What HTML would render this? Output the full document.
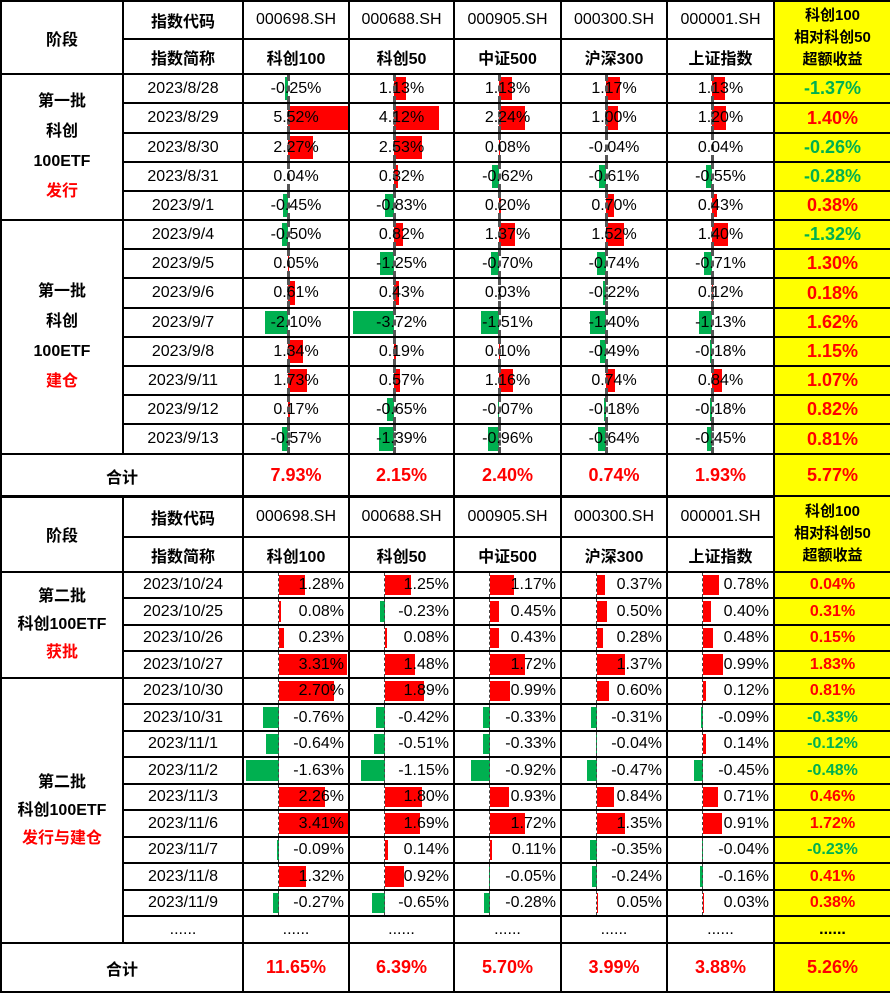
<!DOCTYPE html>
<html><head><meta charset="utf-8">
<style>
html,body{margin:0;padding:0;background:#fff;width:890px;height:993px;overflow:hidden}
body{font-family:"Liberation Sans","Noto Sans CJK SC",sans-serif;font-size:16px;color:#000}
table{border-collapse:collapse;table-layout:fixed;width:890px;position:absolute;left:0}
td{border:2px solid #000;padding:0;text-align:center;position:relative;overflow:hidden;white-space:nowrap}
.h{font-weight:bold}
.y{background:#ffff00;font-weight:bold}
.R{color:#ff0000}.G{color:#00b050}
.b{position:absolute;top:2px;bottom:2px;display:block}
.r{background:#ff0000}.g{background:#00b050}
td span{position:relative;z-index:2}
.t1 .c::before{content:"";position:absolute;left:43px;top:0;bottom:0;border-left:3px dashed #555;z-index:1}
.t1 .r{left:44px}
.t2 .c::before{content:"";position:absolute;left:34px;top:0;bottom:0;border-left:1px dashed #444;z-index:1}
.t2 .r{left:35px}
.t2 .c{text-align:right;padding-right:4px}
.t1 .y{font-size:18px}
.sum td{font-weight:bold;font-size:18px}
.ph{font-weight:bold;line-height:30px}
.yh{font-size:15px;line-height:22px}
</style></head><body>
<table class="t1" style="top:0">
<colgroup><col style="width:122px"><col style="width:120px"><col style="width:106px"><col style="width:105px"><col style="width:107px"><col style="width:106px"><col style="width:107px"><col style="width:117px"></colgroup>
<tr style="height:38px"><td rowspan="2" class="h">阶段</td><td class="h">指数代码</td><td>000698.SH</td><td>000688.SH</td><td>000905.SH</td><td>000300.SH</td><td>000001.SH</td><td rowspan="2" class="y yh" style="font-size:15px">科创100<br>相对科创50<br>超额收益</td></tr>
<tr style="height:35px"><td class="h">指数简称</td><td class="h">科创100</td><td class="h">科创50</td><td class="h">中证500</td><td class="h">沪深300</td><td class="h">上证指数</td></tr>
<tr style="height:29px"><td rowspan="5" class="ph">第一批<br>科创<br>100ETF<br><span class="R">发行</span></td><td>2023/8/28</td>
<td class="c"><b class="b g" style="left:41px;width:3px"></b><span>-0.25%</span></td><td class="c"><b class="b r" style="width:12px"></b><span>1.13%</span></td><td class="c"><b class="b r" style="width:13px"></b><span>1.13%</span></td><td class="c"><b class="b r" style="width:14px"></b><span>1.17%</span></td><td class="c"><b class="b r" style="width:13px"></b><span>1.13%</span></td><td class="y G">-1.37%</td></tr>
<tr style="height:30px"><td>2023/8/29</td>
<td class="c"><b class="b r" style="width:61px"></b><span>5.52%</span></td><td class="c"><b class="b r" style="width:45px"></b><span>4.12%</span></td><td class="c"><b class="b r" style="width:26px"></b><span>2.24%</span></td><td class="c"><b class="b r" style="width:12px"></b><span>1.00%</span></td><td class="c"><b class="b r" style="width:14px"></b><span>1.20%</span></td><td class="y R">1.40%</td></tr>
<tr style="height:29px"><td>2023/8/30</td>
<td class="c"><b class="b r" style="width:25px"></b><span>2.27%</span></td><td class="c"><b class="b r" style="width:28px"></b><span>2.53%</span></td><td class="c"><b class="b r" style="width:1px"></b><span>0.08%</span></td><td class="c"><span>-0.04%</span></td><td class="c"><span>0.04%</span></td><td class="y G">-0.26%</td></tr>
<tr style="height:29px"><td>2023/8/31</td>
<td class="c"><span>0.04%</span></td><td class="c"><b class="b r" style="width:4px"></b><span>0.32%</span></td><td class="c"><b class="b g" style="left:37px;width:7px"></b><span>-0.62%</span></td><td class="c"><b class="b g" style="left:37px;width:7px"></b><span>-0.61%</span></td><td class="c"><b class="b g" style="left:38px;width:6px"></b><span>-0.55%</span></td><td class="y G">-0.28%</td></tr>
<tr style="height:29px"><td>2023/9/1</td>
<td class="c"><b class="b g" style="left:39px;width:5px"></b><span>-0.45%</span></td><td class="c"><b class="b g" style="left:35px;width:9px"></b><span>-0.83%</span></td><td class="c"><b class="b r" style="width:2px"></b><span>0.20%</span></td><td class="c"><b class="b r" style="width:8px"></b><span>0.70%</span></td><td class="c"><b class="b r" style="width:5px"></b><span>0.43%</span></td><td class="y R">0.38%</td></tr>
<tr style="height:29px"><td rowspan="8" class="ph">第一批<br>科创<br>100ETF<br><span class="R">建仓</span></td><td>2023/9/4</td>
<td class="c"><b class="b g" style="left:38px;width:6px"></b><span>-0.50%</span></td><td class="c"><b class="b r" style="width:9px"></b><span>0.82%</span></td><td class="c"><b class="b r" style="width:16px"></b><span>1.37%</span></td><td class="c"><b class="b r" style="width:18px"></b><span>1.52%</span></td><td class="c"><b class="b r" style="width:16px"></b><span>1.40%</span></td><td class="y G">-1.32%</td></tr>
<tr style="height:29px"><td>2023/9/5</td>
<td class="c"><b class="b r" style="width:1px"></b><span>0.05%</span></td><td class="c"><b class="b g" style="left:30px;width:14px"></b><span>-1.25%</span></td><td class="c"><b class="b g" style="left:36px;width:8px"></b><span>-0.70%</span></td><td class="c"><b class="b g" style="left:35px;width:9px"></b><span>-0.74%</span></td><td class="c"><b class="b g" style="left:36px;width:8px"></b><span>-0.71%</span></td><td class="y R">1.30%</td></tr>
<tr style="height:30px"><td>2023/9/6</td>
<td class="c"><b class="b r" style="width:7px"></b><span>0.61%</span></td><td class="c"><b class="b r" style="width:5px"></b><span>0.43%</span></td><td class="c"><span>0.03%</span></td><td class="c"><b class="b g" style="left:41px;width:3px"></b><span>-0.22%</span></td><td class="c"><b class="b r" style="width:1px"></b><span>0.12%</span></td><td class="y R">0.18%</td></tr>
<tr style="height:29px"><td>2023/9/7</td>
<td class="c"><b class="b g" style="left:21px;width:23px"></b><span>-2.10%</span></td><td class="c"><b class="b g" style="left:3px;width:41px"></b><span>-3.72%</span></td><td class="c"><b class="b g" style="left:26px;width:18px"></b><span>-1.51%</span></td><td class="c"><b class="b g" style="left:28px;width:16px"></b><span>-1.40%</span></td><td class="c"><b class="b g" style="left:31px;width:13px"></b><span>-1.13%</span></td><td class="y R">1.62%</td></tr>
<tr style="height:29px"><td>2023/9/8</td>
<td class="c"><b class="b r" style="width:15px"></b><span>1.34%</span></td><td class="c"><b class="b r" style="width:2px"></b><span>0.19%</span></td><td class="c"><b class="b r" style="width:1px"></b><span>0.10%</span></td><td class="c"><b class="b g" style="left:38px;width:6px"></b><span>-0.49%</span></td><td class="c"><b class="b g" style="left:42px;width:2px"></b><span>-0.18%</span></td><td class="y R">1.15%</td></tr>
<tr style="height:29px"><td>2023/9/11</td>
<td class="c"><b class="b r" style="width:19px"></b><span>1.73%</span></td><td class="c"><b class="b r" style="width:6px"></b><span>0.57%</span></td><td class="c"><b class="b r" style="width:14px"></b><span>1.16%</span></td><td class="c"><b class="b r" style="width:9px"></b><span>0.74%</span></td><td class="c"><b class="b r" style="width:10px"></b><span>0.84%</span></td><td class="y R">1.07%</td></tr>
<tr style="height:29px"><td>2023/9/12</td>
<td class="c"><b class="b r" style="width:2px"></b><span>0.17%</span></td><td class="c"><b class="b g" style="left:37px;width:7px"></b><span>-0.65%</span></td><td class="c"><b class="b g" style="left:43px;width:1px"></b><span>-0.07%</span></td><td class="c"><b class="b g" style="left:42px;width:2px"></b><span>-0.18%</span></td><td class="c"><b class="b g" style="left:42px;width:2px"></b><span>-0.18%</span></td><td class="y R">0.82%</td></tr>
<tr style="height:30px"><td>2023/9/13</td>
<td class="c"><b class="b g" style="left:38px;width:6px"></b><span>-0.57%</span></td><td class="c"><b class="b g" style="left:29px;width:15px"></b><span>-1.39%</span></td><td class="c"><b class="b g" style="left:33px;width:11px"></b><span>-0.96%</span></td><td class="c"><b class="b g" style="left:36px;width:8px"></b><span>-0.64%</span></td><td class="c"><b class="b g" style="left:39px;width:5px"></b><span>-0.45%</span></td><td class="y R">0.81%</td></tr>
<tr style="height:43px" class="sum"><td colspan="2" style="font-size:16px">合计</td><td class="R">7.93%</td><td class="R">2.15%</td><td class="R">2.40%</td><td class="R">0.74%</td><td class="R">1.93%</td><td class="y R">5.77%</td></tr>
</table>

<table class="t2" style="top:495px">
<colgroup><col style="width:122px"><col style="width:120px"><col style="width:106px"><col style="width:105px"><col style="width:107px"><col style="width:106px"><col style="width:107px"><col style="width:117px"></colgroup>
<tr style="height:41px"><td rowspan="2" class="h">阶段</td><td class="h">指数代码</td><td>000698.SH</td><td>000688.SH</td><td>000905.SH</td><td>000300.SH</td><td>000001.SH</td><td rowspan="2" class="y yh">科创100<br>相对科创50<br>超额收益</td></tr>
<tr style="height:35px"><td class="h">指数简称</td><td class="h">科创100</td><td class="h">科创50</td><td class="h">中证500</td><td class="h">沪深300</td><td class="h">上证指数</td></tr>
<tr style="height:26px"><td rowspan="4" class="ph" style="line-height:28px">第二批<br>科创100ETF<br><span class="R">获批</span></td><td>2023/10/24</td>
<td class="c"><b class="b r" style="width:26px"></b><span>1.28%</span></td><td class="c"><b class="b r" style="width:26px"></b><span>1.25%</span></td><td class="c"><b class="b r" style="width:24px"></b><span>1.17%</span></td><td class="c"><b class="b r" style="width:8px"></b><span>0.37%</span></td><td class="c"><b class="b r" style="width:16px"></b><span>0.78%</span></td><td class="y R">0.04%</td></tr>
<tr style="height:27px"><td>2023/10/25</td>
<td class="c"><b class="b r" style="width:2px"></b><span>0.08%</span></td><td class="c"><b class="b g" style="left:30px;width:5px"></b><span>-0.23%</span></td><td class="c"><b class="b r" style="width:9px"></b><span>0.45%</span></td><td class="c"><b class="b r" style="width:10px"></b><span>0.50%</span></td><td class="c"><b class="b r" style="width:8px"></b><span>0.40%</span></td><td class="y R">0.31%</td></tr>
<tr style="height:26px"><td>2023/10/26</td>
<td class="c"><b class="b r" style="width:5px"></b><span>0.23%</span></td><td class="c"><b class="b r" style="width:2px"></b><span>0.08%</span></td><td class="c"><b class="b r" style="width:9px"></b><span>0.43%</span></td><td class="c"><b class="b r" style="width:6px"></b><span>0.28%</span></td><td class="c"><b class="b r" style="width:10px"></b><span>0.48%</span></td><td class="y R">0.15%</td></tr>
<tr style="height:27px"><td>2023/10/27</td>
<td class="c"><b class="b r" style="width:68px"></b><span>3.31%</span></td><td class="c"><b class="b r" style="width:30px"></b><span>1.48%</span></td><td class="c"><b class="b r" style="width:35px"></b><span>1.72%</span></td><td class="c"><b class="b r" style="width:28px"></b><span>1.37%</span></td><td class="c"><b class="b r" style="width:20px"></b><span>0.99%</span></td><td class="y R">1.83%</td></tr>
<tr style="height:26px"><td rowspan="10" class="ph" style="line-height:28px">第二批<br>科创100ETF<br><span class="R">发行与建仓</span></td><td>2023/10/30</td>
<td class="c"><b class="b r" style="width:55px"></b><span>2.70%</span></td><td class="c"><b class="b r" style="width:39px"></b><span>1.89%</span></td><td class="c"><b class="b r" style="width:20px"></b><span>0.99%</span></td><td class="c"><b class="b r" style="width:12px"></b><span>0.60%</span></td><td class="c"><b class="b r" style="width:3px"></b><span>0.12%</span></td><td class="y R">0.81%</td></tr>
<tr style="height:27px"><td>2023/10/31</td>
<td class="c"><b class="b g" style="left:19px;width:16px"></b><span>-0.76%</span></td><td class="c"><b class="b g" style="left:26px;width:9px"></b><span>-0.42%</span></td><td class="c"><b class="b g" style="left:28px;width:7px"></b><span>-0.33%</span></td><td class="c"><b class="b g" style="left:29px;width:6px"></b><span>-0.31%</span></td><td class="c"><b class="b g" style="left:33px;width:2px"></b><span>-0.09%</span></td><td class="y G">-0.33%</td></tr>
<tr style="height:26px"><td>2023/11/1</td>
<td class="c"><b class="b g" style="left:22px;width:13px"></b><span>-0.64%</span></td><td class="c"><b class="b g" style="left:24px;width:11px"></b><span>-0.51%</span></td><td class="c"><b class="b g" style="left:28px;width:7px"></b><span>-0.33%</span></td><td class="c"><b class="b g" style="left:34px;width:1px"></b><span>-0.04%</span></td><td class="c"><b class="b r" style="width:3px"></b><span>0.14%</span></td><td class="y G">-0.12%</td></tr>
<tr style="height:27px"><td>2023/11/2</td>
<td class="c"><b class="b g" style="left:2px;width:33px"></b><span>-1.63%</span></td><td class="c"><b class="b g" style="left:11px;width:24px"></b><span>-1.15%</span></td><td class="c"><b class="b g" style="left:16px;width:19px"></b><span>-0.92%</span></td><td class="c"><b class="b g" style="left:25px;width:10px"></b><span>-0.47%</span></td><td class="c"><b class="b g" style="left:26px;width:9px"></b><span>-0.45%</span></td><td class="y G">-0.48%</td></tr>
<tr style="height:26px"><td>2023/11/3</td>
<td class="c"><b class="b r" style="width:46px"></b><span>2.26%</span></td><td class="c"><b class="b r" style="width:37px"></b><span>1.80%</span></td><td class="c"><b class="b r" style="width:19px"></b><span>0.93%</span></td><td class="c"><b class="b r" style="width:17px"></b><span>0.84%</span></td><td class="c"><b class="b r" style="width:15px"></b><span>0.71%</span></td><td class="y R">0.46%</td></tr>
<tr style="height:27px"><td>2023/11/6</td>
<td class="c"><b class="b r" style="width:70px"></b><span>3.41%</span></td><td class="c"><b class="b r" style="width:35px"></b><span>1.69%</span></td><td class="c"><b class="b r" style="width:35px"></b><span>1.72%</span></td><td class="c"><b class="b r" style="width:28px"></b><span>1.35%</span></td><td class="c"><b class="b r" style="width:19px"></b><span>0.91%</span></td><td class="y R">1.72%</td></tr>
<tr style="height:26px"><td>2023/11/7</td>
<td class="c"><b class="b g" style="left:33px;width:2px"></b><span>-0.09%</span></td><td class="c"><b class="b r" style="width:3px"></b><span>0.14%</span></td><td class="c"><b class="b r" style="width:2px"></b><span>0.11%</span></td><td class="c"><b class="b g" style="left:28px;width:7px"></b><span>-0.35%</span></td><td class="c"><b class="b g" style="left:34px;width:1px"></b><span>-0.04%</span></td><td class="y G">-0.23%</td></tr>
<tr style="height:27px"><td>2023/11/8</td>
<td class="c"><b class="b r" style="width:27px"></b><span>1.32%</span></td><td class="c"><b class="b r" style="width:19px"></b><span>0.92%</span></td><td class="c"><b class="b g" style="left:34px;width:1px"></b><span>-0.05%</span></td><td class="c"><b class="b g" style="left:30px;width:5px"></b><span>-0.24%</span></td><td class="c"><b class="b g" style="left:32px;width:3px"></b><span>-0.16%</span></td><td class="y R">0.41%</td></tr>
<tr style="height:26px"><td>2023/11/9</td>
<td class="c"><b class="b g" style="left:29px;width:6px"></b><span>-0.27%</span></td><td class="c"><b class="b g" style="left:22px;width:13px"></b><span>-0.65%</span></td><td class="c"><b class="b g" style="left:29px;width:6px"></b><span>-0.28%</span></td><td class="c"><b class="b r" style="width:1px"></b><span>0.05%</span></td><td class="c"><b class="b r" style="width:1px"></b><span>0.03%</span></td><td class="y R">0.38%</td></tr>
<tr style="height:27px"><td>......</td><td>......</td><td>......</td><td>......</td><td>......</td><td>......</td><td class="y">......</td></tr>
<tr style="height:49px" class="sum"><td colspan="2" style="font-size:16px">合计</td><td class="R">11.65%</td><td class="R">6.39%</td><td class="R">5.70%</td><td class="R">3.99%</td><td class="R">3.88%</td><td class="y R">5.26%</td></tr>
</table>
</body></html>
